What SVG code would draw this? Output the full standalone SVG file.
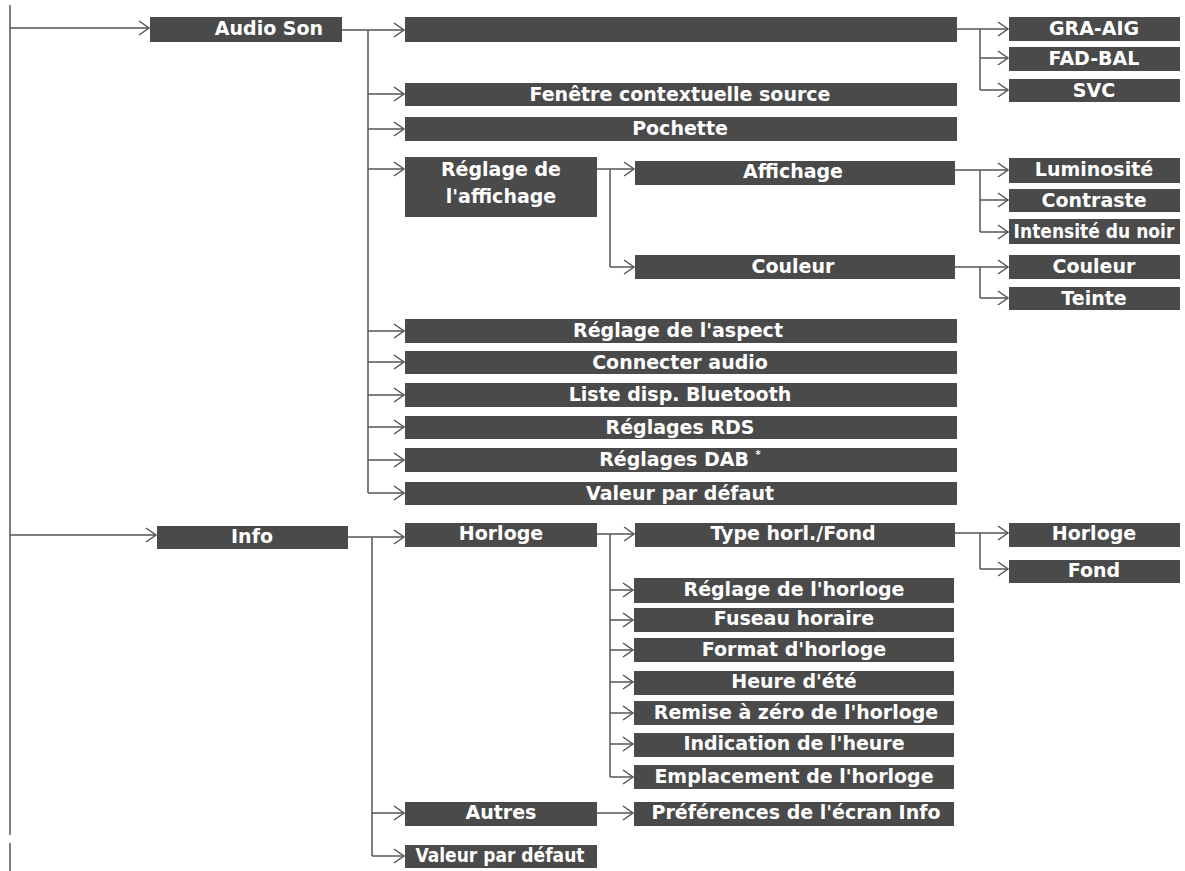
<svg xmlns="http://www.w3.org/2000/svg" width="1185" height="871" viewBox="0 0 1185 871">
<style>
.b{fill:#4a4a4a}
.t{font-family:"DejaVu Sans",sans-serif;font-weight:bold;font-size:19px;fill:#fff;text-anchor:middle}
.n{font-family:"DejaVu Sans Condensed","DejaVu Sans",sans-serif}
.c{fill:none;stroke:#555;stroke-width:1.5}
.a{fill:none;stroke:#555;stroke-width:1.5;marker-end:url(#ar)}
</style>
<defs>
<marker id="ar" markerUnits="userSpaceOnUse" markerWidth="14" markerHeight="18" viewBox="0 0 14 18" refX="12" refY="9" orient="auto">
<path d="M2,2 L12,9 L2,16" fill="none" stroke="#555" stroke-width="1.5"/>
</marker>
</defs>
<rect width="1185" height="871" fill="#fff"/>
<g id="connectors">
<path class="c" d="M10,5 V835 M10,843 V871"/>
<path class="a" d="M10,28 H149"/>
<path class="a" d="M10,535 H156"/>
<path class="c" d="M342,30 H368 M368,30 V493"/>
<path class="a" d="M368,30 H404"/>
<path class="a" d="M368,94 H404"/>
<path class="a" d="M368,129 H404"/>
<path class="a" d="M368,169 H404"/>
<path class="a" d="M368,331 H404"/>
<path class="a" d="M368,362 H404"/>
<path class="a" d="M368,395 H404"/>
<path class="a" d="M368,427 H404"/>
<path class="a" d="M368,460 H404"/>
<path class="a" d="M368,493 H404"/>
<path class="c" d="M957,29 H980 M980,29 V90"/>
<path class="a" d="M980,29 H1008"/>
<path class="a" d="M980,58 H1008"/>
<path class="a" d="M980,90 H1008"/>
<path class="c" d="M597,169 H610 M610,169 V267"/>
<path class="a" d="M610,169 H634"/>
<path class="a" d="M610,267 H634"/>
<path class="c" d="M955,170 H980 M980,170 V232"/>
<path class="a" d="M980,170 H1008"/>
<path class="a" d="M980,200 H1008"/>
<path class="a" d="M980,232 H1008"/>
<path class="c" d="M955,267 H980 M980,267 V298"/>
<path class="a" d="M980,267 H1008"/>
<path class="a" d="M980,298 H1008"/>
<path class="c" d="M348,537 H372 M372,537 V856"/>
<path class="a" d="M372,537 H404"/>
<path class="a" d="M372,813 H404"/>
<path class="a" d="M372,856 H404"/>
<path class="c" d="M597,534 H610 M610,534 V777"/>
<path class="a" d="M610,534 H634"/>
<path class="a" d="M610,590 H633"/>
<path class="a" d="M610,620 H633"/>
<path class="a" d="M610,650 H633"/>
<path class="a" d="M610,682 H633"/>
<path class="a" d="M610,713 H633"/>
<path class="a" d="M610,744 H633"/>
<path class="a" d="M610,777 H633"/>
<path class="c" d="M955,533 H980 M980,533 V569"/>
<path class="a" d="M980,533 H1008"/>
<path class="a" d="M980,569 H1008"/>
<path class="a" d="M597,813 H633"/>
</g>
<g id="audio-son"><rect class="b" x="150" y="17" width="192" height="25"/><text class="t" x="269" y="35">Audio Son</text></g>
<g id="audio-top"><rect class="b" x="405" y="17" width="552" height="25"/></g>
<g id="gra-aig"><rect class="b" x="1009" y="17" width="171" height="24"/><text class="t" x="1094" y="35">GRA-AIG</text></g>
<g id="fad-bal"><rect class="b" x="1009" y="47" width="171" height="24"/><text class="t" x="1094" y="65">FAD-BAL</text></g>
<g id="svc"><rect class="b" x="1009" y="79" width="171" height="23"/><text class="t" x="1094" y="97">SVC</text></g>
<g id="fenetre"><rect class="b" x="405" y="83" width="552" height="23"/><text class="t" x="680" y="101">Fenêtre contextuelle source</text></g>
<g id="pochette"><rect class="b" x="405" y="117" width="552" height="24"/><text class="t" x="680" y="135">Pochette</text></g>
<g id="reglage-affichage"><rect class="b" x="405" y="157" width="192" height="60"/><text class="t" x="501" y="176">Réglage de</text><text class="t" x="501" y="203">l'affichage</text></g>
<g id="affichage"><rect class="b" x="635" y="161" width="320" height="24"/><text class="t" x="793" y="178">Affichage</text></g>
<g id="couleur-menu"><rect class="b" x="635" y="255" width="320" height="24"/><text class="t" x="793" y="273">Couleur</text></g>
<g id="luminosite"><rect class="b" x="1009" y="158" width="171" height="25"/><text class="t" x="1094" y="176">Luminosité</text></g>
<g id="contraste"><rect class="b" x="1009" y="189" width="171" height="23"/><text class="t" x="1094" y="207">Contraste</text></g>
<g id="intensite"><rect class="b" x="1009" y="219" width="171" height="25"/><text class="t n" x="1094" y="238">Intensité du noir</text></g>
<g id="couleur"><rect class="b" x="1009" y="255" width="171" height="24"/><text class="t" x="1094" y="273">Couleur</text></g>
<g id="teinte"><rect class="b" x="1009" y="287" width="171" height="23"/><text class="t" x="1094" y="305">Teinte</text></g>
<g id="aspect"><rect class="b" x="405" y="319" width="552" height="24"/><text class="t" x="678" y="337">Réglage de l'aspect</text></g>
<g id="connecter"><rect class="b" x="405" y="351" width="552" height="23"/><text class="t" x="680" y="369">Connecter audio</text></g>
<g id="liste-bt"><rect class="b" x="405" y="383" width="552" height="24"/><text class="t" x="680" y="401">Liste disp. Bluetooth</text></g>
<g id="rds"><rect class="b" x="405" y="416" width="552" height="23"/><text class="t" x="680" y="434">Réglages RDS</text></g>
<g id="dab"><rect class="b" x="405" y="448" width="552" height="24"/><text class="t" x="680" y="466">Réglages DAB <tspan font-size="10" dy="-8">*</tspan></text></g>
<g id="valeur-audio"><rect class="b" x="405" y="482" width="552" height="23"/><text class="t" x="680" y="500">Valeur par défaut</text></g>
<g id="info"><rect class="b" x="157" y="526" width="191" height="23"/><text class="t" x="252" y="543">Info</text></g>
<g id="horloge-menu"><rect class="b" x="405" y="523" width="192" height="24"/><text class="t" x="501" y="540">Horloge</text></g>
<g id="type-horl"><rect class="b" x="635" y="523" width="320" height="24"/><text class="t" x="793" y="540">Type horl./Fond</text></g>
<g id="horloge"><rect class="b" x="1009" y="523" width="171" height="24"/><text class="t" x="1094" y="540">Horloge</text></g>
<g id="fond"><rect class="b" x="1009" y="560" width="171" height="23"/><text class="t" x="1094" y="577">Fond</text></g>
<g id="reglage-horloge"><rect class="b" x="634" y="578" width="320" height="25"/><text class="t" x="794" y="596">Réglage de l'horloge</text></g>
<g id="fuseau"><rect class="b" x="634" y="608" width="320" height="24"/><text class="t" x="794" y="625">Fuseau horaire</text></g>
<g id="format"><rect class="b" x="634" y="638" width="320" height="24"/><text class="t" x="794" y="656">Format d'horloge</text></g>
<g id="heure-ete"><rect class="b" x="634" y="671" width="320" height="24"/><text class="t" x="794" y="688">Heure d'été</text></g>
<g id="remise"><rect class="b" x="634" y="701" width="320" height="24"/><text class="t" x="796" y="719">Remise à zéro de l'horloge</text></g>
<g id="indication"><rect class="b" x="634" y="733" width="320" height="24"/><text class="t" x="794" y="750">Indication de l'heure</text></g>
<g id="emplacement"><rect class="b" x="634" y="765" width="320" height="24"/><text class="t" x="794" y="783">Emplacement de l'horloge</text></g>
<g id="autres"><rect class="b" x="405" y="802" width="192" height="24"/><text class="t" x="501" y="819">Autres</text></g>
<g id="preferences"><rect class="b" x="634" y="802" width="320" height="24"/><text class="t" x="796" y="819">Préférences de l'écran Info</text></g>
<g id="valeur-info"><rect class="b" x="405" y="845" width="192" height="23"/><text class="t n" x="500" y="862">Valeur par défaut</text></g>
</svg>
